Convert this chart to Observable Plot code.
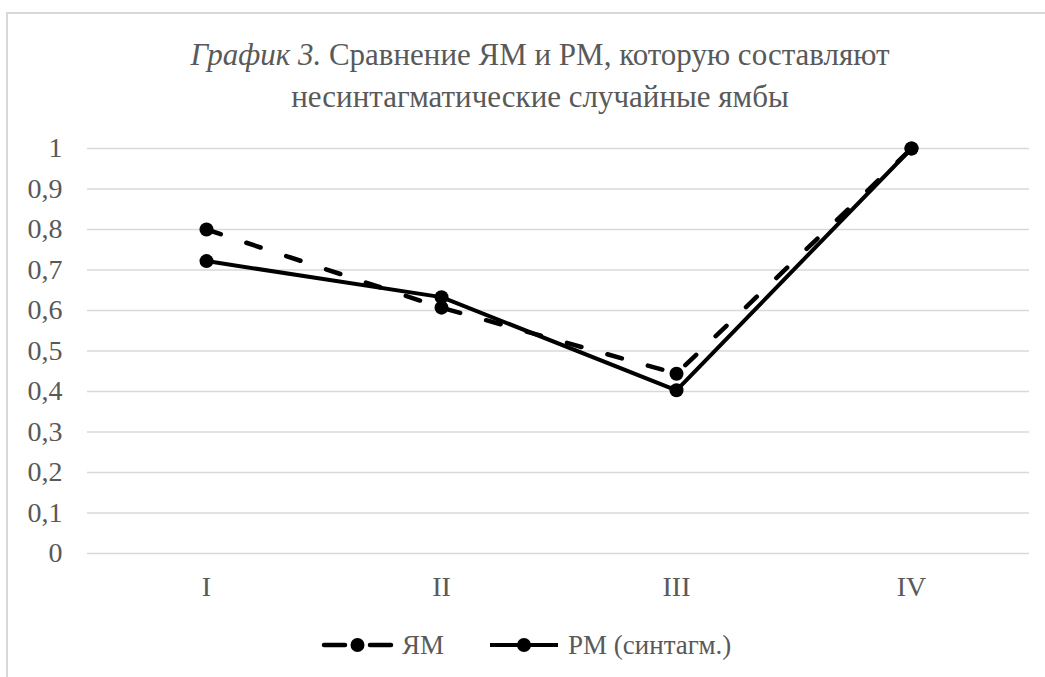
<!DOCTYPE html>
<html>
<head>
<meta charset="utf-8">
<script src="https://cdn.jsdelivr.net/npm/d3@7"></script>
<script src="https://cdn.jsdelivr.net/npm/@observablehq/plot@0.6"></script>
<style>
  html, body { margin: 0; padding: 0; background: #fff; width: 1045px; height: 677px; overflow: hidden; }
  body { position: relative; color: #595959; font-family: 'Liberation Serif', 'DejaVu Serif Condensed', 'DejaVu Serif'; }
  #frame { position: absolute; left: 6px; top: 12px; width: 1100px; height: 700px; border: 2px solid #d9d9d9; box-sizing: border-box; }
  #title { position: absolute; left: 0; width: 1080px; top: 34px; text-align: center; font-size: 31px; line-height: 42px; color: #595959; font-family: 'Liberation Serif', 'DejaVu Serif Condensed', 'DejaVu Serif'; }
  #chart { position: absolute; left: 0; top: 130px; }
  #legend { position: absolute; top: 627px; left: 0; width: 1045px; height: 36px; color: #595959; }
  .item { position: absolute; top: 0; display: flex; align-items: center; height: 36px; font-size: 27px; font-family: 'Liberation Serif', 'DejaVu Serif Condensed', 'DejaVu Serif'; }
  .item svg { margin-right: 8px; }
</style>
</head>
<body>
<div id="frame"></div>
<div id="title"><i>График 3.</i> Сравнение ЯМ и РМ, которую составляют<br>несинтагматические случайные ямбы</div>
<div id="chart"></div>
<div id="legend"></div>
<script>
const categories = ["I", "II", "III", "IV"];
const seriesNames = ["ЯМ", "РМ (синтагм.)"];
const yamValues = [0.80, 0.607, 0.444, 1.0];
const rmValues = [0.722, 0.633, 0.403, 1.0];
const yTicks = [0, 0.1, 0.2, 0.3, 0.4, 0.5, 0.6, 0.7, 0.8, 0.9, 1];

const data = [];
categories.forEach((c, i) => {
  data.push({cat: c, series: seriesNames[0], value: yamValues[i]});
  data.push({cat: c, series: seriesNames[1], value: rmValues[i]});
});
const yam = data.filter(d => d.series === seriesNames[0]);
const rm = data.filter(d => d.series === seriesNames[1]);

const fmt = d => String(+d.toFixed(1)).replace(".", ",");
const FONT = "'Liberation Serif', 'DejaVu Serif Condensed', 'DejaVu Serif'";

const chart = Plot.plot({
  width: 1045,
  height: 480,
  marginLeft: 87,
  marginRight: 16,
  marginTop: 18,
  marginBottom: 57,
  style: {fontFamily: FONT, fontSize: "28px", color: "#595959", background: "transparent"},
  x: {type: "point", domain: categories, padding: 0.5},
  y: {domain: [0, 1]},
  marks: [
    Plot.ruleY(yTicks, {stroke: "#d9d9d9", strokeWidth: 1.3}),
    Plot.axisY({ticks: yTicks, tickFormat: fmt, tickSize: 0, tickPadding: 25, fontSize: 28, fontFamily: FONT, fill: "#595959", label: null}),
    Plot.axisX({tickSize: 0, tickPadding: 23, fontSize: 28, fontFamily: FONT, fill: "#595959", label: null}),
    Plot.line(yam, {x: "cat", y: "value", stroke: "#000", strokeWidth: 4.5, strokeDasharray: "15,27", strokeLinecap: "round"}),
    Plot.line(rm, {x: "cat", y: "value", stroke: "#000", strokeWidth: 4, strokeLinecap: "round"}),
    Plot.dot(yam, {x: "cat", y: "value", r: 7, fill: "#000"}),
    Plot.dot(rm, {x: "cat", y: "value", r: 7, fill: "#000"})
  ]
});
document.getElementById("chart").appendChild(chart);

// Legend
const legend = document.getElementById("legend");
const items = [
  {name: seriesNames[0], dash: true, left: 321, w: 73},
  {name: seriesNames[1], dash: false, left: 488, w: 72}
];
items.forEach(it => {
  const div = document.createElement("div");
  div.className = "item";
  div.style.left = it.left + "px";
  const s = d3.create("svg").attr("width", it.w).attr("height", 20);
  if (it.dash) {
    s.append("line").attr("x1", 3).attr("x2", 24).attr("y1", 10).attr("y2", 10).attr("stroke", "#000").attr("stroke-width", 4.5).attr("stroke-linecap", "round");
    s.append("line").attr("x1", it.w - 24).attr("x2", it.w - 3).attr("y1", 10).attr("y2", 10).attr("stroke", "#000").attr("stroke-width", 4.5).attr("stroke-linecap", "round");
  } else {
    s.append("line").attr("x1", 2).attr("x2", it.w - 2).attr("y1", 10).attr("y2", 10).attr("stroke", "#000").attr("stroke-width", 4);
  }
  s.append("circle").attr("cx", it.w / 2).attr("cy", 10).attr("r", 7).attr("fill", "#000");
  div.appendChild(s.node());
  const t = document.createElement("span");
  t.textContent = it.name;
  div.appendChild(t);
  legend.appendChild(div);
});
</script>
</body>
</html>
